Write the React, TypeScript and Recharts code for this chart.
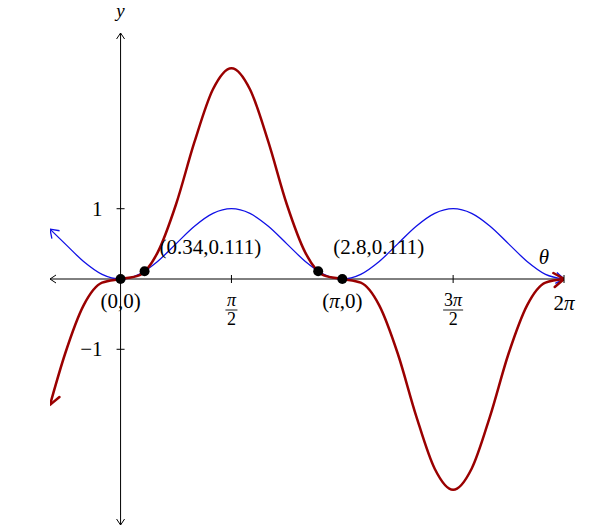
import { ComposedChart, Line, Scatter, XAxis, YAxis, ReferenceDot } from "recharts"

// theta samples and the two curves
const theta = [-1.0, -0.785, -0.524, -0.262, 0, 0.262, 0.524, 0.785, 1.047, 1.309, 1.571, 1.833, 2.094, 2.356, 2.618, 2.88, 3.142, 3.403, 3.665, 3.927, 4.189, 4.451, 4.712, 4.974, 5.236, 5.498, 5.76, 6.021, 6.283]
const blueY = [0.71, 0.5, 0.25, 0.067, 0, 0.067, 0.25, 0.5, 0.75, 0.933, 1, 0.933, 0.75, 0.5, 0.25, 0.067, 0, 0.067, 0.25, 0.5, 0.75, 0.933, 1, 0.933, 0.75, 0.5, 0.25, 0.067, 0]
const redY = [-1.79, -1.06, -0.375, -0.052, 0, 0.052, 0.375, 1.06, 1.95, 2.7, 3, 2.7, 1.95, 1.06, 0.375, 0.052, 0, -0.052, -0.375, -1.06, -1.95, -2.7, -3, -2.7, -1.95, -1.06, -0.375, -0.052, 0]

const xTicks = [1.571, 3.142, 4.712, 6.283]
const xTickLabels = ["π/2", "", "3π/2", "2π"]
const yTicks = [1, -1]
const yTickLabels = ["1", "−1"]

const pointT = [0, 0.34, 2.8, 3.142]
const pointV = [0, 0.111, 0.111, 0]
const pointLabels = ["(0,0)", "(0.34,0.111)", "(2.8,0.111)", "(π,0)"]

const X_DOMAIN = [-1, 6.283]
const Y_DOMAIN = [-3.5, 3.5]

const rows = theta.map((t, i) => ({ t, b: blueY[i], r: redY[i] }))
const xAxisRows = [{ t: X_DOMAIN[0], v: 0 }, { t: X_DOMAIN[1], v: 0 }]
const yAxisRows = [{ t: 0, v: Y_DOMAIN[0] }, { t: 0, v: Y_DOMAIN[1] }]
const pointRows = pointT.map((t, i) => ({ t, v: pointV[i], label: pointLabels[i] }))

const FONT = "'Liberation Serif', 'Times New Roman', serif"
const FS = 21

// where each point label sits relative to its dot
const labelPlace = [
  { dx: 0, dy: 29, anchor: "middle" },
  { dx: 15, dy: -17, anchor: "start" },
  { dx: 15, dy: -17, anchor: "start" },
  { dx: 0, dy: 29, anchor: "middle" },
]

function mathText(s: string) {
  // italicise pi
  return s.split(/(π)/).map((part, i) =>
    part === "π" ? <tspan key={i} fontStyle="italic">π</tspan> : <tspan key={i}>{part}</tspan>
  )
}

function XTick({ cx, cy, label }: any) {
  let lab = null
  if (label.includes("/")) {
    const [num, den] = label.split("/")
    const half = num.length > 1 ? 10 : 6
    lab = (
      <g>
        <text x={cx} y={cy + 27} fontFamily={FONT} fontSize={18} textAnchor="middle" fill="#000">{mathText(num)}</text>
        <line x1={cx - half} y1={cy + 31} x2={cx + half} y2={cy + 31} stroke="#000" strokeWidth={0.9} />
        <text x={cx} y={cy + 46} fontFamily={FONT} fontSize={18} textAnchor="middle" fill="#000">{den}</text>
      </g>
    )
  } else if (label) {
    lab = (
      <text x={cx} y={cy + 31} fontFamily={FONT} fontSize={FS} textAnchor="middle" fill="#000">
        {mathText(label)}
      </text>
    )
  }
  return (
    <g>
      <line x1={cx} y1={cy - 4} x2={cx} y2={cy + 4} stroke="#000" strokeWidth={1} />
      {lab}
    </g>
  )
}

function YTick({ cx, cy, label }: any) {
  return (
    <g>
      <line x1={cx - 4} y1={cy} x2={cx + 4} y2={cy} stroke="#000" strokeWidth={1} />
      <text x={cx - 18} y={cy + 7} fontFamily={FONT} fontSize={FS} textAnchor="end" fill="#000">
        {label}
      </text>
    </g>
  )
}

function PointLabel(props: any) {
  const { cx, cy, index } = props
  const p = labelPlace[index]
  return (
    <text x={cx + p.dx} y={cy + p.dy} fontFamily={FONT} fontSize={FS} textAnchor={p.anchor} fill="#000">
      {mathText(pointLabels[index])}
    </text>
  )
}

function PointDot(props: any) {
  return <circle cx={props.cx} cy={props.cy} r={5} fill="#000" />
}

export default function App() {
  return (
    <div style={{ position: "absolute", left: 0, top: 0, width: 605, height: 530 }}>
      <svg width={0} height={0} style={{ position: "absolute" }}>
        <defs>
          <marker id="arrK" markerUnits="userSpaceOnUse" orient="auto-start-reverse" overflow="visible" refX={0} refY={0}>
            <path d="M -6 -4 L 0 0 L -6 4" fill="none" stroke="#000" strokeWidth={1} />
          </marker>
          <marker id="arrB" markerUnits="userSpaceOnUse" orient="auto-start-reverse" overflow="visible" refX={0} refY={0}>
            <path d="M -8 -5.5 L 0 0 L -8 5.5" fill="none" stroke="#1010e6" strokeWidth={1.3} />
          </marker>
          <marker id="arrR" markerUnits="userSpaceOnUse" orient="auto-start-reverse" overflow="visible" refX={0} refY={0}>
            <path d="M -10 -7 L 0 0 L -10 7" fill="none" stroke="#9a0000" strokeWidth={2.5} strokeLinecap="round" strokeLinejoin="round" />
          </marker>
        </defs>
      </svg>
      <ComposedChart width={605} height={530} data={rows} margin={{ top: 33, right: 41, bottom: 5, left: 50 }}>
        <XAxis type="number" dataKey="t" domain={X_DOMAIN} hide allowDataOverflow />
        <YAxis type="number" domain={Y_DOMAIN} hide allowDataOverflow />

        <Scatter data={pointRows} dataKey="v" shape={PointLabel} isAnimationActive={false} />

        <Line data={xAxisRows} dataKey="v" type="linear" stroke="#000" strokeWidth={1} dot={false}
          markerStart="url(#arrK)" markerEnd="url(#arrK)" isAnimationActive={false} />
        <Line data={yAxisRows} dataKey="v" type="linear" stroke="#000" strokeWidth={1} dot={false}
          markerStart="url(#arrK)" markerEnd="url(#arrK)" isAnimationActive={false} />

        {xTicks.map((t, i) => (
          <ReferenceDot key={"xt" + i} x={t} y={0} shape={(p: any) => <XTick {...p} label={xTickLabels[i]} />} />
        ))}
        {yTicks.map((v, i) => (
          <ReferenceDot key={"yt" + i} x={0} y={v} shape={(p: any) => <YTick {...p} label={yTickLabels[i]} />} />
        ))}
        <ReferenceDot x={X_DOMAIN[1]} y={0} shape={(p: any) => (
          <text x={p.cx - 20} y={p.cy - 15} fontFamily={FONT} fontSize={FS} fontStyle="italic" textAnchor="middle">θ</text>
        )} />
        <ReferenceDot x={0} y={Y_DOMAIN[1]} shape={(p: any) => (
          <text x={p.cx} y={p.cy - 16} fontFamily={FONT} fontSize={19} fontStyle="italic" textAnchor="middle">y</text>
        )} />

        <Line dataKey="b" type="monotone" stroke="#1010e6" strokeWidth={1.3} dot={false}
          markerStart="url(#arrB)" markerEnd="url(#arrB)" isAnimationActive={false} />
        <Line dataKey="r" type="monotone" stroke="#9a0000" strokeWidth={2.5} dot={false}
          markerStart="url(#arrR)" markerEnd="url(#arrR)" isAnimationActive={false} />

        <Scatter data={pointRows} dataKey="v" shape={PointDot} isAnimationActive={false} />
      </ComposedChart>
    </div>
  )
}
